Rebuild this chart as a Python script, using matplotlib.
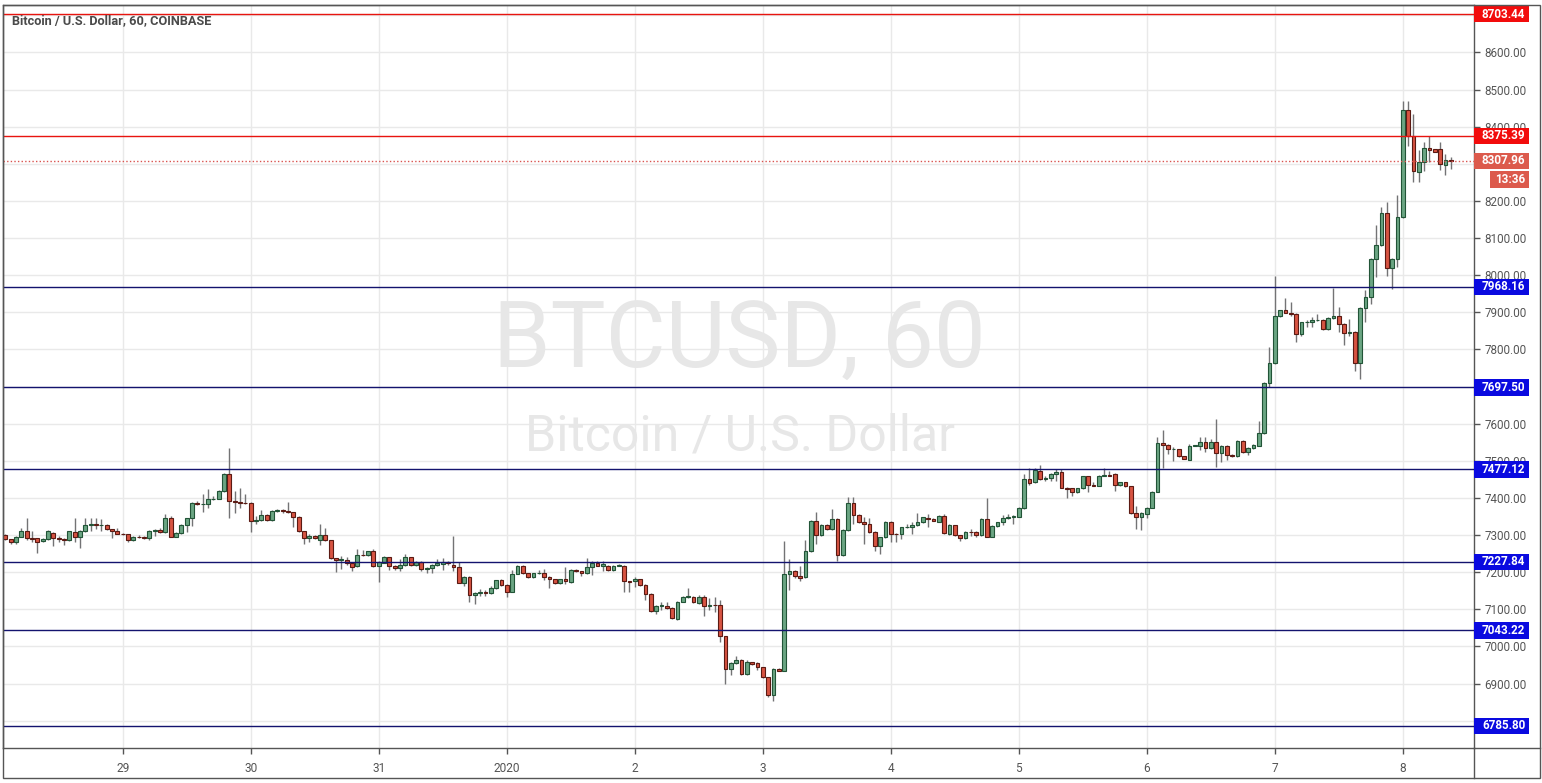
import matplotlib
matplotlib.use("Agg")
import matplotlib.pyplot as plt
import numpy as np
from matplotlib.patches import Rectangle
from matplotlib.lines import Line2D

plt.rcParams['font.family'] = ['Roboto', 'DejaVu Sans']

# ---------------- data (hourly BTCUSD candles, Dec 28 02:00 -> Jan 8 09:00) -------------
opens = [7300,7289,7280,7296,7311,7291,7292,7283,7290,7306,7291,7290,7287,7309,7296,7310,7328,7329,7327,7328,
         7316,7310,7304,7302,7286,7296,7295,7292,7311,7313,7307,7345,7296,7305,7328,7345,7386,7384,7384,7397,
         7398,7419,7464,7392,7389,7387,7386,7337,7340,7354,7340,7365,7367,7366,7361,7350,7310,7291,7297,7287,
         7301,7286,7237,7234,7233,7224,7217,7247,7246,7256,7217,7226,7240,7217,7211,7219,7240,7220,7228,7208,
         7210,7219,7222,7228,7219,7213,7172,7187,7139,7145,7146,7144,7157,7178,7166,7148,7196,7217,7197,7187,
         7197,7199,7187,7181,7170,7181,7173,7206,7202,7197,7213,7224,7218,7218,7206,7218,7217,7175,7175,7181,
         7166,7141,7096,7110,7110,7103,7073,7121,7133,7134,7116,7134,7109,7113,7112,7027,6940,6955,6963,6925,
         6957,6955,6944,6917,6868,6939,6935,7195,7204,7190,7186,7257,7338,7299,7328,7316,7343,7245,7314,7386,
         7354,7334,7329,7308,7271,7294,7335,7303,7303,7321,7323,7326,7335,7347,7344,7336,7352,7303,7326,7299,
         7291,7309,7307,7300,7343,7296,7325,7334,7347,7350,7350,7372,7452,7442,7472,7451,7455,7464,7470,7428,
         7426,7415,7426,7458,7434,7433,7460,7461,7464,7434,7442,7431,7359,7350,7356,7374,7417,7549,7543,7531,
         7531,7512,7503,7541,7541,7552,7535,7552,7520,7541,7517,7514,7553,7523,7535,7541,7575,7710,7764,7890,
         7907,7899,7896,7842,7873,7874,7878,7880,7855,7885,7891,7869,7845,7848,7764,7912,7941,8044,8080,8168,
         8019,8044,8158,8444,8376,8277,8304,8343,8339,8339,8298,8311]
highs = [7303,7290,7297,7320,7345,7311,7293,7292,7313,7308,7298,7292,7312,7347,7313,7345,7345,7345,7343,7330,
         7317,7319,7306,7304,7298,7300,7297,7313,7316,7320,7358,7352,7307,7330,7347,7388,7392,7410,7424,7406,
         7421,7466,7534,7419,7428,7410,7388,7352,7367,7356,7367,7370,7370,7390,7363,7352,7312,7304,7300,7329,
         7318,7288,7239,7244,7240,7226,7262,7259,7258,7262,7230,7243,7242,7219,7235,7249,7242,7230,7230,7214,
         7221,7235,7238,7230,7298,7228,7190,7189,7147,7154,7153,7163,7180,7181,7168,7206,7220,7219,7199,7199,
         7206,7208,7189,7183,7183,7213,7208,7208,7203,7238,7231,7229,7229,7220,7220,7222,7219,7177,7188,7183,
         7168,7143,7112,7121,7121,7105,7123,7135,7157,7136,7139,7139,7130,7133,7125,7029,6957,6973,6965,6964,
         6959,6957,6946,6919,6941,6941,7283,7235,7206,7217,7287,7340,7362,7330,7330,7370,7345,7316,7402,7402,
         7356,7348,7345,7310,7296,7337,7339,7305,7323,7329,7334,7359,7350,7356,7346,7354,7356,7330,7328,7301,
         7311,7316,7311,7345,7401,7327,7336,7354,7356,7354,7376,7464,7482,7482,7488,7460,7466,7478,7478,7430,
         7428,7428,7460,7460,7442,7462,7482,7473,7466,7444,7444,7433,7377,7361,7376,7419,7565,7583,7545,7536,
         7533,7514,7546,7543,7565,7564,7559,7613,7543,7543,7519,7556,7556,7537,7546,7607,7712,7806,7999,7907,
         7939,7927,7898,7875,7880,7887,7896,7882,7887,7966,7914,7871,7882,7850,7914,7961,8046,8134,8183,8197,
         8046,8215,8469,8469,8435,8336,8358,8376,8341,8358,8327,8318]
lows = [7286,7276,7275,7295,7286,7282,7253,7280,7288,7271,7282,7273,7285,7280,7264,7308,7311,7316,7311,7314,
        7293,7302,7300,7280,7284,7292,7290,7287,7298,7305,7305,7294,7294,7303,7309,7325,7382,7361,7374,7395,
        7396,7417,7345,7359,7374,7384,7307,7329,7338,7338,7338,7363,7359,7359,7323,7309,7277,7282,7289,7273,
        7284,7235,7201,7208,7219,7204,7215,7244,7244,7215,7174,7224,7206,7205,7202,7217,7218,7218,7204,7199,
        7199,7217,7206,7220,7204,7170,7163,7121,7114,7136,7135,7142,7155,7164,7134,7146,7194,7195,7184,7185,
        7196,7179,7157,7168,7168,7169,7171,7200,7190,7195,7193,7216,7204,7204,7203,7216,7148,7148,7161,7164,
        7124,7094,7088,7099,7101,7074,7071,7119,7131,7117,7114,7081,7099,7094,7011,6899,6923,6953,6923,6923,
        6951,6937,6915,6865,6852,6933,6933,7152,7184,7175,7184,7255,7276,7297,7314,7314,7229,7243,7312,7329,
        7332,7275,7306,7257,7249,7292,7280,7280,7289,7320,7303,7324,7333,7323,7337,7334,7303,7301,7297,7285,
        7289,7298,7296,7298,7294,7294,7323,7327,7343,7329,7348,7370,7434,7440,7449,7446,7446,7446,7426,7401,
        7406,7413,7424,7415,7431,7431,7458,7458,7419,7431,7429,7357,7316,7314,7345,7372,7415,7482,7518,7500,
        7510,7504,7501,7539,7528,7523,7533,7483,7496,7501,7510,7510,7521,7517,7533,7539,7573,7698,7762,7887,
        7897,7891,7820,7837,7860,7860,7877,7853,7853,7883,7846,7811,7837,7743,7721,7873,7923,7995,8078,7999,
        7963,8022,8154,8349,8251,8251,8280,8304,8331,8282,8269,8286]
closes = [7289,7280,7296,7311,7291,7290,7282,7289,7311,7291,7290,7287,7310,7296,7311,7328,7329,7327,7328,7316,
          7310,7304,7302,7286,7296,7295,7292,7311,7313,7307,7345,7296,7305,7328,7345,7386,7384,7385,7397,7398,
          7419,7464,7392,7389,7387,7386,7337,7340,7354,7340,7365,7367,7366,7361,7350,7311,7291,7297,7292,7301,
          7286,7237,7234,7235,7224,7213,7247,7246,7256,7217,7228,7241,7217,7211,7219,7240,7220,7228,7208,7212,
          7219,7224,7228,7224,7213,7172,7188,7138,7145,7147,7144,7157,7178,7166,7148,7196,7217,7197,7187,7197,
          7199,7187,7181,7170,7181,7175,7206,7202,7197,7213,7224,7218,7221,7206,7218,7219,7175,7173,7181,7166,
          7141,7096,7110,7111,7103,7076,7121,7133,7135,7119,7133,7108,7113,7112,7027,6940,6955,6963,6925,6958,
          6953,6944,6917,6868,6939,6935,7195,7204,7190,7184,7257,7338,7299,7328,7316,7343,7245,7314,7386,7354,
          7334,7329,7308,7271,7294,7335,7303,7302,7321,7323,7326,7335,7348,7344,7339,7352,7305,7328,7299,7291,
          7309,7307,7300,7343,7296,7325,7334,7347,7350,7351,7374,7452,7440,7475,7451,7455,7464,7470,7428,7425,
          7415,7426,7458,7434,7433,7460,7461,7460,7434,7442,7431,7359,7350,7359,7374,7417,7549,7543,7531,7533,
          7512,7506,7541,7542,7552,7535,7552,7520,7541,7517,7512,7553,7523,7535,7543,7575,7710,7764,7890,7905,
          7899,7896,7842,7873,7874,7878,7880,7855,7885,7891,7869,7845,7848,7764,7912,7941,8044,8080,8168,8019,
          8044,8158,8445,8376,8280,8304,8343,8336,8333,8300,8311,8307.96]

day_ticks = [22, 46, 70, 94, 118, 142, 166, 190, 214, 238, 262]
day_labels = ['29', '30', '31', '2020', '2', '3', '4', '5', '6', '7', '8']
price_ticks = list(range(6800, 8701, 100))
hidden_price_labels = [6800, 7700, 8300, 8700]   # fully covered by level labels in the reference

red_levels = [8703.44, 8375.39]
blue_levels = [7968.16, 7697.50, 7477.12, 7227.84, 7043.22, 6785.80]
last_price = 8307.96
countdown = '13:36'

# ---------------- layout -------------------------------------------------------------
W, Hp = 1542, 783
fig = plt.figure(figsize=(W / 100, Hp / 100), dpi=100)
fig.patch.set_facecolor('white')

ax = fig.add_axes([3 / W, 1 - 748 / Hp, (1474 - 3) / W, (748 - 5) / Hp])
ymin, ymax = 6726.5, 8727.7
ax.set_ylim(ymin, ymax)
ax.set_xlim(-0.45, 275.35)

O = np.array(opens, float); Hh = np.array(highs, float)
Lo = np.array(lows, float); C = np.array(closes, float)
x = np.arange(len(O))
up = C >= O
bottom = np.minimum(O, C)
height = np.maximum(np.abs(C - O), 0.6)

ax.vlines(x, Lo, Hh, color='#737375', lw=1, zorder=3)
ax.bar(x[up], height[up], bottom=bottom[up], width=0.72, color='#6ba583',
       edgecolor='#225437', linewidth=0.8, zorder=4)
ax.bar(x[~up], height[~up], bottom=bottom[~up], width=0.72, color='#d75442',
       edgecolor='#5b1a13', linewidth=0.8, zorder=4)

# level lines
for lv in red_levels:
    ax.axhline(lv, color='#e8140f', lw=1, zorder=5)
for lv in blue_levels:
    ax.axhline(lv, color='#13136e', lw=1, zorder=5)
ax.axhline(last_price, color='#d9534f', lw=1, ls=(0, (1, 1.6)), zorder=5)

# grid / ticks
ax.set_yticks(price_ticks)
ax.set_yticklabels(['' if v in hidden_price_labels else f'{v:.2f}' for v in price_ticks])
ax.yaxis.tick_right()
ax.set_xticks(day_ticks)
ax.set_xticklabels(day_labels)
ax.grid(True, color='#e9e9e9', lw=1, zorder=0)
ax.set_axisbelow(True)
ax.tick_params(axis='y', which='both', direction='out', length=4, width=1, color='#555555',
               pad=3.5, labelsize=8.4, labelcolor='#555555')
ax.tick_params(axis='x', which='both', direction='out', length=4, width=1, color='#555555',
               pad=6, labelsize=8.6, labelcolor='#555555')
for s in ax.spines.values():
    s.set_color('#555555')
    s.set_linewidth(1)

# watermark
ax.text(137.7, 7750, 'BTCUSD, 60', ha='center', va='baseline', fontsize=66.5,
        color='#e7e7e7', zorder=1)
ax.text(137.7, 7529, 'Bitcoin / U.S. Dollar', ha='center', va='baseline', fontsize=36,
        color='#e7e7e7', zorder=1)

# title
fig.text(12 / W, 1 - 21 / Hp, 'Bitcoin / U.S. Dollar, 60, COINBASE', ha='left', va='center',
         fontsize=9.2, fontweight='semibold', color='#4a4a4a')

# price scale labels
pax = fig.add_axes([1474 / W, 1 - 748 / Hp, 66 / W, (748 - 5) / Hp])
pax.set_xlim(0, 66)
pax.set_ylim(ymin, ymax)
pax.axis('off')
ppx = 743 / (ymax - ymin)  # pixels per dollar
hh = 8.2 / ppx


def box(level, text, color, x0=-0.5, x1=54.5):
    pax.add_patch(Rectangle((x0, level - hh), x1 - x0, 2 * hh, facecolor=color,
                            edgecolor='none', zorder=5, clip_on=False))
    pax.text(x0 + (8.5 if x0 < 1 else 5.5), level, text, ha='left', va='center', fontsize=8.4,
             fontweight='bold', color='white', zorder=6, clip_on=False)


for lv in red_levels:
    box(lv, f'{lv:.2f}', '#f20c0c')
for lv in blue_levels:
    box(lv, f'{lv:.2f}', '#0a0ae0')
box(last_price, f'{last_price:.2f}', '#dc5a4c')
box(last_price - 18.5 / ppx, countdown, '#dc5a4c', x0=15.5)

# outer frame
fig.add_artist(Rectangle((3 / W, 1 - 778 / Hp), (1540 - 3) / W, (778 - 5) / Hp,
                         transform=fig.transFigure, fill=False, edgecolor='#555555', lw=1))
fig.add_artist(Line2D([1474 / W, 1474 / W], [1 - 748 / Hp, 1 - 778 / Hp],
                      transform=fig.transFigure, color='#555555', lw=1))
fig.add_artist(Line2D([1474 / W, 1540 / W], [1 - 748 / Hp, 1 - 748 / Hp],
                      transform=fig.transFigure, color='#555555', lw=1))

fig.savefig('out.png', dpi=100, facecolor='white')
